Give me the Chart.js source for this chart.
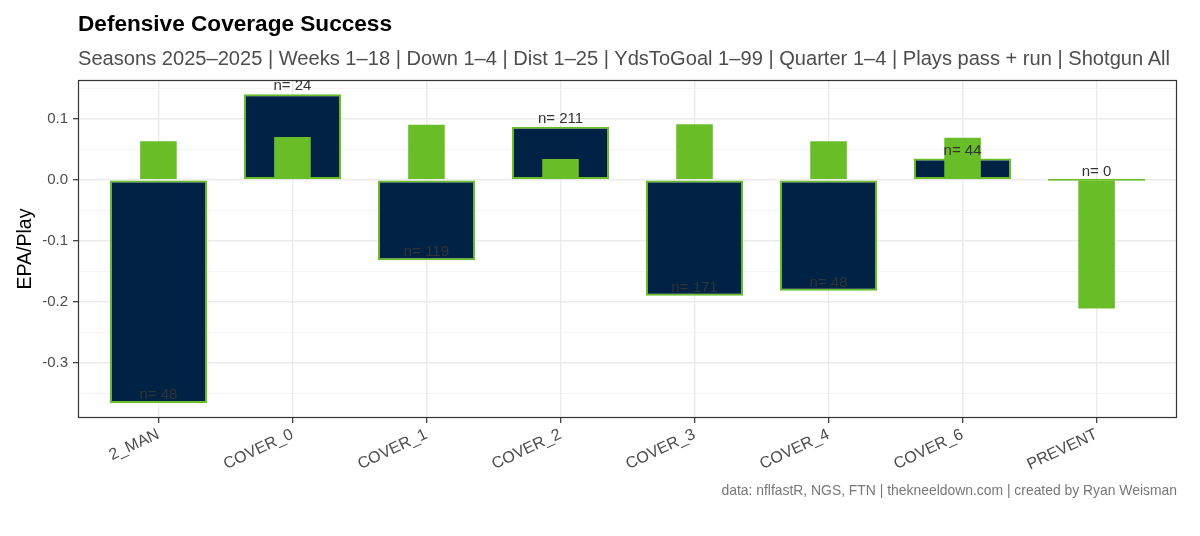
<!DOCTYPE html>
<html>
<head>
<meta charset="utf-8">
<title>Defensive Coverage Success</title>
<script src="https://cdn.jsdelivr.net/npm/chart.js@4.4.1/dist/chart.umd.min.js"></script>
<style>
    body { margin: 0; background: #fff; }
    #wrap { position: relative; width: 1200px; height: 536px; font-family: "Liberation Sans", Arial, sans-serif; }
    #chart { position: absolute; left: 0; top: 0; }
    .title { position: absolute; left: 78px; top: 12px; font-size: 22.6px; line-height: 23px; font-weight: bold; color: #000; white-space: nowrap; }
    .subtitle { position: absolute; left: 78px; top: 48px; font-size: 20.1px; line-height: 20px; color: #4d4d4d; white-space: nowrap; }
    .caption { position: absolute; right: 23px; top: 483px; font-size: 13.9px; line-height: 14px; color: #777; white-space: nowrap; }
</style>
</head>
<body>
<div id="wrap">
    <canvas id="chart" width="1200" height="536"></canvas>
    <div class="title">Defensive Coverage Success</div>
    <div class="subtitle">Seasons 2025–2025 | Weeks 1–18 | Down 1–4 | Dist 1–25 | YdsToGoal 1–99 | Quarter 1–4 | Plays pass + run | Shotgun All</div>
    <div class="caption">data: nflfastR, NGS, FTN | thekneeldown.com | created by Ryan Weisman</div>
</div>
<script>
// ===== Data =====
const coverages = ['2_MAN', 'COVER_0', 'COVER_1', 'COVER_2', 'COVER_3', 'COVER_4', 'COVER_6', 'PREVENT'];
const teamEpa = [-0.366, 0.140, -0.132, 0.087, -0.190, -0.182, 0.035, 0.0];
const leagueEpa = [0.063, 0.070, 0.090, 0.034, 0.091, 0.063, 0.069, -0.211];
const playCounts = [48, 24, 119, 211, 171, 48, 44, 0];
const yMajorTicks = [-0.3, -0.2, -0.1, 0.0, 0.1];
const yMinorTicks = [-0.35, -0.25, -0.15, -0.05, 0.05, 0.15];

const NAVY = '#002244';
const GREEN = '#69BE28';
const FONT = '"Liberation Sans", Arial, sans-serif';

const isMajor = v => yMajorTicks.some(t => Math.abs(t - v) < 1e-9);

// ===== Panel border (theme_bw style) =====
const panelBorder = {
    id: 'panelBorder',
    afterDatasetsDraw(chart) {
        const { ctx, chartArea: a } = chart;
        ctx.save();
        ctx.strokeStyle = '#333';
        ctx.lineWidth = 1.2;
        ctx.strokeRect(a.left + 0.5, a.top + 0.5, a.right - a.left - 1, a.bottom - a.top - 1);
        ctx.restore();
    }
};

// ===== "n= .." labels at the end of each team bar =====
const countLabels = {
    id: 'countLabels',
    afterDatasetsDraw(chart) {
        const { ctx, scales: { x, y } } = chart;
        ctx.save();
        ctx.font = '15px ' + FONT;
        ctx.fillStyle = '#333';
        ctx.textAlign = 'center';
        ctx.textBaseline = 'middle';
        playCounts.forEach((n, i) => {
            ctx.fillText('n= ' + n, x.getPixelForValue(i), y.getPixelForValue(teamEpa[i]) - 8);
        });
        ctx.restore();
    }
};

const ctx = document.getElementById('chart').getContext('2d');
new Chart(ctx, {
    type: 'bar',
    data: {
        datasets: [
            {
                label: 'League EPA/Play',
                data: leagueEpa.map((v, i) => ({ x: i, y: v })),
                backgroundColor: GREEN,
                borderWidth: 0,
                barPercentage: 0.273,
                categoryPercentage: 1
            },
            {
                label: 'Defense EPA/Play',
                data: teamEpa.map((v, i) => ({ x: i, y: v })),
                backgroundColor: NAVY,
                borderColor: GREEN,
                borderWidth: 2,
                borderSkipped: false,
                minBarLength: 2,
                barPercentage: 0.725,
                categoryPercentage: 1
            }
        ]
    },
    options: {
        responsive: false,
        animation: false,
        layout: { padding: { top: 80, right: 23, bottom: 0, left: 0 } },
        datasets: { bar: { grouped: false } },
        plugins: {
            legend: { display: false },
            tooltip: { enabled: false }
        },
        scales: {
            x: {
                type: 'linear',
                min: -0.6,
                max: 7.6,
                offset: false,
                afterBuildTicks: s => { s.ticks = coverages.map((c, i) => ({ value: i })); },
                afterFit: s => { s.height = 118; },
                ticks: {
                    autoSkip: false,
                    minRotation: 25,
                    maxRotation: 25,
                    padding: 2,
                    color: '#4d4d4d',
                    font: { family: FONT, size: 16 },
                    callback: v => coverages[v]
                },
                grid: { offset: false, color: '#ebebeb', lineWidth: 1.4, tickColor: '#333', tickLength: 5, tickWidth: 1.2 },
                border: { display: false }
            },
            y: {
                min: -0.3905,
                max: 0.1635,
                afterBuildTicks: s => {
                    s.ticks = yMajorTicks.concat(yMinorTicks).sort((a, b) => a - b).map(v => ({ value: v }));
                },
                afterFit: s => { s.width = 78; },
                ticks: {
                    autoSkip: false,
                    padding: 5,
                    color: '#4d4d4d',
                    font: { family: FONT, size: 15 },
                    callback: v => isMajor(v) ? v.toFixed(1) : ''
                },
                title: {
                    display: true,
                    text: 'EPA/Play',
                    color: '#000',
                    font: { family: FONT, size: 19.5 },
                    padding: { top: 14, bottom: 0 }
                },
                grid: {
                    color: c => isMajor(c.tick.value) ? '#ebebeb' : '#f1f1f1',
                    lineWidth: c => isMajor(c.tick.value) ? 1.4 : 0.8,
                    tickColor: c => isMajor(c.tick.value) ? '#333' : 'rgba(0,0,0,0)',
                    tickLength: 5,
                    tickWidth: 1.2
                },
                border: { display: false }
            }
        }
    },
    plugins: [panelBorder, countLabels]
});
</script>
</body>
</html>
